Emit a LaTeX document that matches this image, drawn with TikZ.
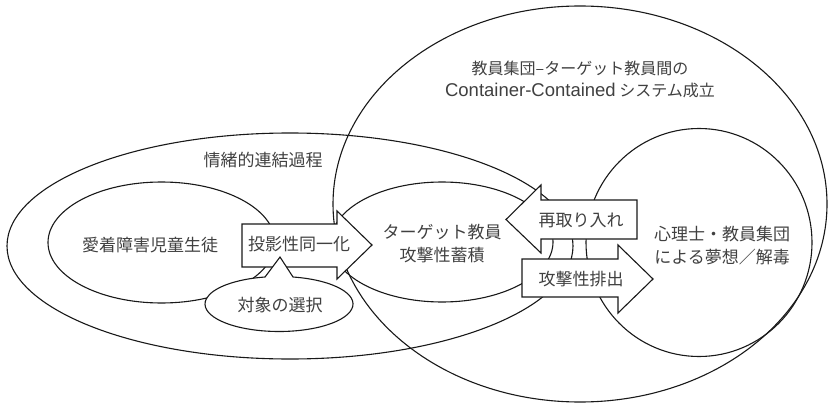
\documentclass[tikz,border=0pt]{standalone}
\usepackage{fontspec}
\setmainfont{Noto Sans CJK JP}
\newfontfamily\latinfont{Liberation Sans}
\usetikzlibrary{shapes.geometric}
\begin{document}
\begin{tikzpicture}[x=1pt,y=-1pt,
  ring/.style={draw=black!90, line width=1.1pt, ellipse, inner sep=0pt, outer sep=0pt},
  blockarrow/.style={draw=black!90, line width=1.1pt, fill=white, line join=miter},
  lbl/.style={text=black!75, font=\fontsize{17}{23}\selectfont, align=center, inner sep=0pt}]
\useasboundingbox (0,0) rectangle (829,406);
% ellipses
\node[ring, minimum width=494pt, minimum height=396pt] (container) at (580,204) {};
\node[ring, minimum width=566pt, minimum height=226pt] (emotion) at (290,246) {};
\node[ring, minimum width=227pt, minimum height=121pt] (child) at (161.5,242.5) {};
\node[ring, minimum width=222pt, minimum height=120pt] (target) at (442,242) {};
\node[ring, minimum width=226pt, minimum height=228pt] (psych) at (699,242.5) {};
% block arrows
\draw[blockarrow] (242,224) -- (337,224) -- (337,211) -- (372,245) -- (337,279) -- (337,267) -- (242,267) -- cycle;
\draw[blockarrow] (637,200) -- (541,200) -- (541,185) -- (506,219.5) -- (541,253) -- (541,239) -- (637,239) -- cycle;
\draw[blockarrow] (522,259) -- (618,259) -- (618,245) -- (653,279) -- (618,313) -- (618,297) -- (522,297) -- cycle;
% callout
\draw[blockarrow] (293,277) arc[start angle=79.1, end angle=-259.1, x radius=74pt, y radius=27.5pt] -- (280,257) -- cycle;
% labels
\node[lbl] (lemotion) at (263,160) {情緒的連結過程};
\node[lbl] (lchild) at (150,245) {愛着障害児童生徒};
\node[lbl] (lproj) at (299,244) {投影性同一化};
\node[lbl] (lselect) at (280,305) {対象の選択};
\node[lbl] (ltarget) at (442,243.5) {ターゲット教員\\攻撃性蓄積};
\node[lbl] (lreintro) at (581,220) {再取り入れ};
\node[lbl] (lexpel) at (581,279) {攻撃性排出};
\node[lbl] (lpsych) at (722,246) {心理士・教員集団\\による夢想／解毒};
\node[lbl, font=\fontsize{16}{22}\selectfont] (lcontainer) at (580,79) {教員集団–ターゲット教員間の\\{\latinfont\fontsize{18.5}{22}\selectfont Container-Contained} システム成立};
\end{tikzpicture}
\end{document}
